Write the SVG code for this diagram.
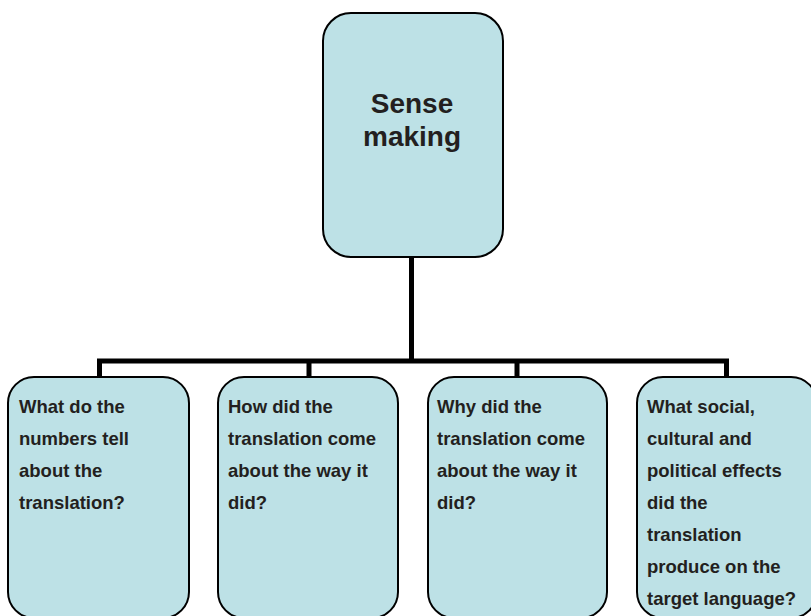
<svg xmlns="http://www.w3.org/2000/svg" width="811" height="616" viewBox="0 0 811 616">
<style>
.box{fill:#bde1e6;stroke:#000;stroke-width:2}
.t{font-family:"Liberation Sans",Arial,sans-serif;font-weight:bold;font-size:18.5px;fill:#231f20}
.tt{font-family:"Liberation Sans",Arial,sans-serif;font-weight:bold;font-size:28px;fill:#231f20;text-anchor:middle}
.c{stroke:#000;stroke-width:5;fill:none}
</style>
<rect width="811" height="616" fill="#fff"/>
<g id="connectors">
<path class="c" d="M411.5 257V361M99.5 377V361H726.5V377M309 361V377M517 361V377"/>
</g>
<g id="top">
<rect class="box" x="323" y="13" width="180" height="244" rx="28"/>
<text class="tt" x="412" y="113">Sense</text>
<text class="tt" x="412" y="146">making</text>
</g>
<g id="n1">
<rect class="box" x="8" y="377" width="181" height="241" rx="26"/>
<text class="t" x="19" y="413">What do the</text>
<text class="t" x="19" y="445">numbers tell</text>
<text class="t" x="19" y="477">about the</text>
<text class="t" x="19" y="509">translation?</text>
</g>
<g id="n2">
<rect class="box" x="218" y="377" width="180" height="241" rx="26"/>
<text class="t" x="228" y="413">How did the</text>
<text class="t" x="228" y="445">translation come</text>
<text class="t" x="228" y="477">about the way it</text>
<text class="t" x="228" y="509">did?</text>
</g>
<g id="n3">
<rect class="box" x="428" y="377" width="179" height="241" rx="26"/>
<text class="t" x="437" y="413">Why did the</text>
<text class="t" x="437" y="445">translation come</text>
<text class="t" x="437" y="477">about the way it</text>
<text class="t" x="437" y="509">did?</text>
</g>
<g id="n4">
<rect class="box" x="637" y="377" width="180" height="241" rx="26"/>
<text class="t" x="647" y="413">What social,</text>
<text class="t" x="647" y="445">cultural and</text>
<text class="t" x="647" y="477">political effects</text>
<text class="t" x="647" y="509">did the</text>
<text class="t" x="647" y="541">translation</text>
<text class="t" x="647" y="573">produce on the</text>
<text class="t" x="647" y="605">target language?</text>
</g>
</svg>
